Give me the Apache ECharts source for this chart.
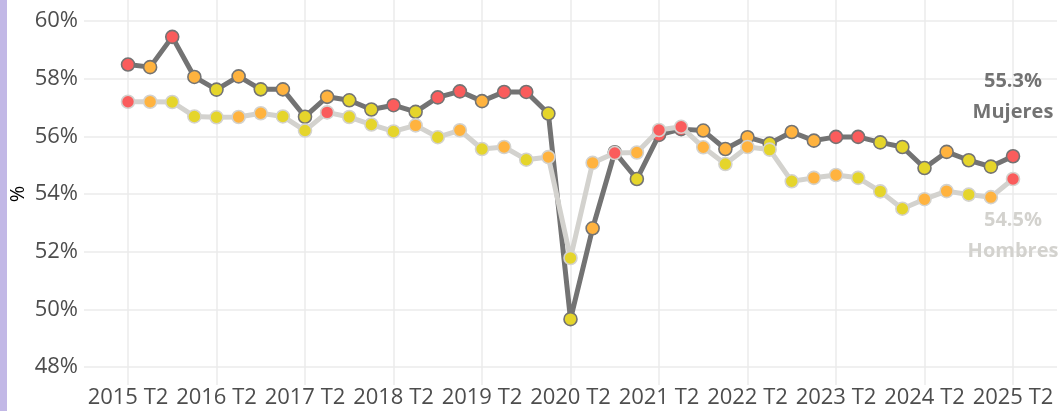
<!DOCTYPE html>
<html>
<head>
<meta charset="utf-8">
<script src="https://cdn.jsdelivr.net/npm/echarts@6/dist/echarts.min.js"></script>
<style>
html,body{margin:0;padding:0;background:#fff;}
#chart{width:1062px;height:411px;}
</style>
</head>
<body>
<div id="chart"></div>
<script>
var quarters = [
  "2015 T2","2015 T3","2015 T4","2016 T1",
  "2016 T2","2016 T3","2016 T4","2017 T1",
  "2017 T2","2017 T3","2017 T4","2018 T1",
  "2018 T2","2018 T3","2018 T4","2019 T1",
  "2019 T2","2019 T3","2019 T4","2020 T1",
  "2020 T2","2020 T3","2020 T4","2021 T1",
  "2021 T2","2021 T3","2021 T4","2022 T1",
  "2022 T2","2022 T3","2022 T4","2023 T1",
  "2023 T2","2023 T3","2023 T4","2024 T1",
  "2024 T2","2024 T3","2024 T4","2025 T1",
  "2025 T2"
];
var mujeres = [
  58.49,58.40,59.45,58.06,57.62,58.08,57.63,57.63,56.68,57.37,
  57.25,56.93,57.08,56.85,57.35,57.56,57.22,57.54,57.54,56.79,
  49.66,52.81,55.45,54.52,56.05,56.25,56.20,55.56,55.97,55.75,
  56.15,55.85,55.98,55.98,55.79,55.63,54.90,55.46,55.17,54.95,
  55.31
];
var mujeresTone = [
  "r","o","r","o","y","o","y","o","y","o",
  "y","y","r","y","r","r","o","r","r","y",
  "y","o","r","y","r","r","o","o","o","y",
  "o","o","r","r","y","y","y","o","y","y",
  "r"
];
var hombres = [
  57.20,57.20,57.19,56.69,56.66,56.67,56.80,56.69,56.20,56.83,
  56.67,56.41,56.17,56.38,55.97,56.21,55.56,55.63,55.19,55.28,
  51.78,55.08,55.42,55.44,56.22,56.33,55.62,55.04,55.63,55.54,
  54.44,54.56,54.66,54.56,54.09,53.49,53.82,54.10,53.98,53.89,
  54.52
];
var hombresTone = [
  "r","o","y","y","y","o","o","y","y","r",
  "y","y","y","o","y","o","y","o","y","o",
  "y","o","r","o","r","r","o","y","o","y",
  "y","o","o","y","y","y","o","o","y","o",
  "r"
];
var yTicks = [48,50,52,54,56,58,60];

var toneColor = {r:"#fa5c5c", o:"#ffb33f", y:"#e5d52b"};
var darkGrey = "#737373";
var lightGrey = "#d3d2ce";
var fontFam = "'Open Sans', 'Noto Sans', sans-serif";

function buildData(vals, tones, border) {
  return vals.map(function (v, i) {
    return {value: v, itemStyle: {color: toneColor[tones[i]], borderColor: border}};
  });
}

var chart = echarts.init(document.getElementById('chart'), null, {renderer: 'canvas'});
var last = quarters.length - 1;

var option = {
  backgroundColor: '#ffffff',
  animation: false,
  grid: [
    {left: 128, right: 49, top: 0, bottom: 26},
    {left: 84, right: 5, top: 21, bottom: 44},
    {left: 128, right: 49, top: 21, bottom: 44}
  ],
  xAxis: [
    {
      gridIndex: 0, type: 'category', data: quarters, boundaryGap: false,
      axisLine: {show: false}, axisTick: {show: false},
      axisLabel: {interval: 3, color: '#4d4d4d', fontSize: 22, fontFamily: fontFam, margin: 2},
      splitLine: {show: true, interval: 3, lineStyle: {color: '#ebebeb', width: 1.5}}
    },
    {gridIndex: 1, type: 'value', show: false, min: 0, max: 1},
    {gridIndex: 2, type: 'category', data: quarters, boundaryGap: false, show: false}
  ],
  yAxis: [
    {gridIndex: 0, type: 'value', show: false, min: 0, max: 1},
    {
      gridIndex: 1, type: 'value', min: yTicks[0], max: yTicks[yTicks.length - 1], interval: 2,
      axisLine: {show: false}, axisTick: {show: false},
      axisLabel: {formatter: '{value}%', color: '#4d4d4d', fontSize: 22, fontFamily: fontFam, margin: 6},
      splitLine: {show: true, lineStyle: {color: '#ebebeb', width: 1.5}}
    },
    {gridIndex: 2, type: 'value', min: yTicks[0], max: yTicks[yTicks.length - 1], show: false}
  ],
  graphic: [
    {type: 'rect', left: 0, top: 0, shape: {width: 7, height: 411}, style: {fill: '#c2b8e6'}, silent: true},
    {type: 'text', x: 18, y: 194, rotation: Math.PI / 2,
     style: {text: '%', fill: '#000', font: '20px ' + fontFam, align: 'center', verticalAlign: 'middle'}}
  ],
  series: [
    {
      name: 'Mujeres', type: 'line', xAxisIndex: 2, yAxisIndex: 2,
      data: buildData(mujeres, mujeresTone, darkGrey),
      symbol: 'circle', symbolSize: 13,
      lineStyle: {color: darkGrey, width: 5},
      itemStyle: {borderWidth: 1.6},
      z: 2
    },
    {
      name: 'Hombres', type: 'line', xAxisIndex: 2, yAxisIndex: 2,
      data: buildData(hombres, hombresTone, lightGrey),
      symbol: 'circle', symbolSize: 13,
      lineStyle: {color: lightGrey, width: 5},
      itemStyle: {borderWidth: 1.6},
      z: 3
    }
  ]
};

// end labels on the last points
option.series[0].data[last].label = {
  show: true, position: 'top', distance: 21,
  formatter: mujeres[last].toFixed(1) + '%\nMujeres',
  color: darkGrey, fontSize: 20, fontWeight: 'bold', fontFamily: fontFam, lineHeight: 31, align: 'center'
};
option.series[1].data[last].label = {
  show: true, position: 'bottom', distance: 18,
  formatter: hombres[last].toFixed(1) + '%\nHombres',
  color: lightGrey, fontSize: 20, fontWeight: 'bold', fontFamily: fontFam, lineHeight: 31, align: 'center'
};

chart.setOption(option);
</script>
</body>
</html>
